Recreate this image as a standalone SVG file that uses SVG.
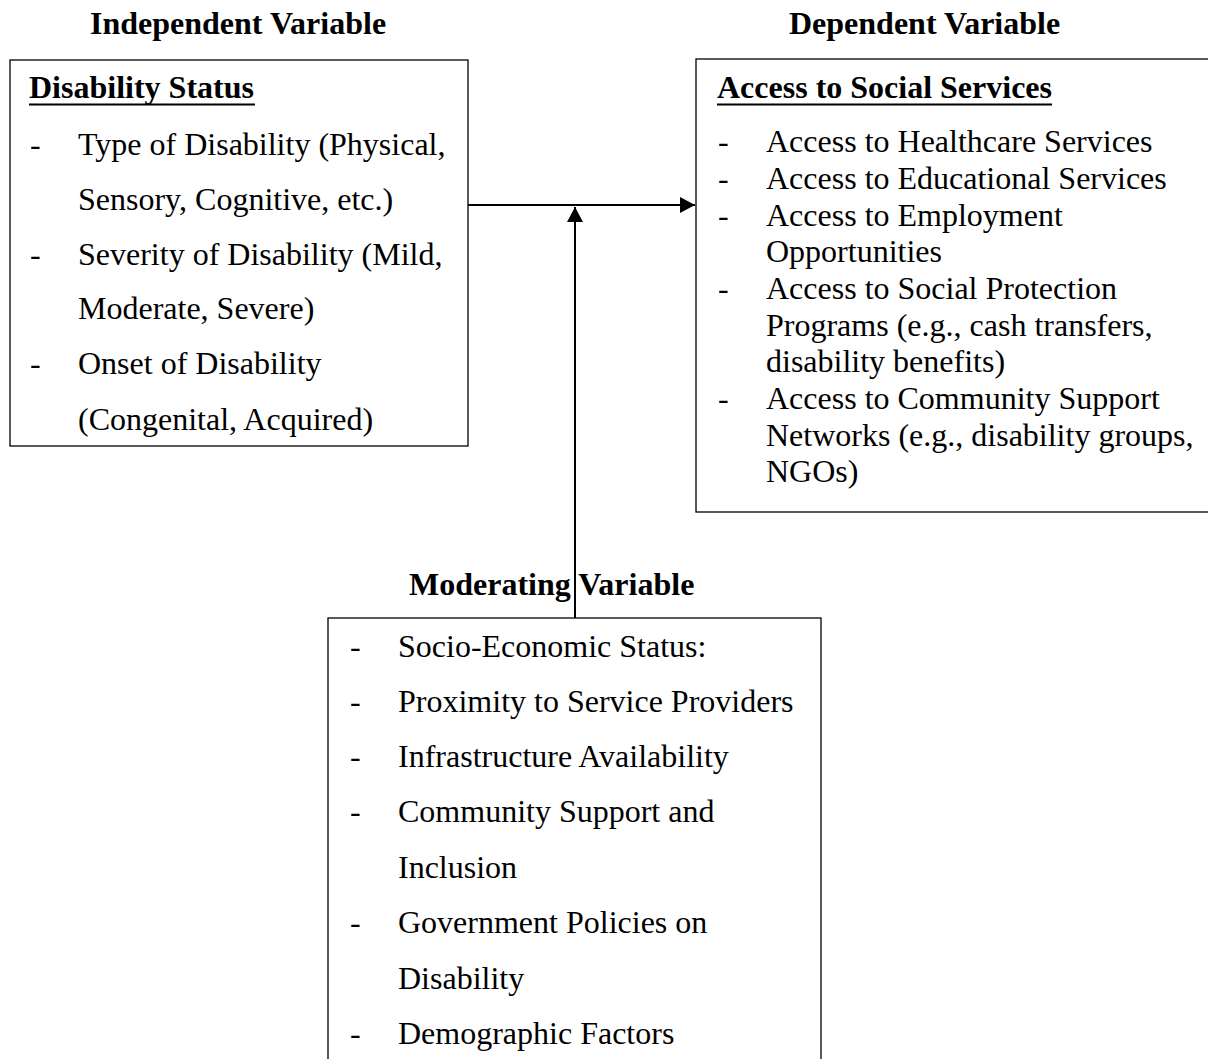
<svg xmlns="http://www.w3.org/2000/svg" width="1208" height="1059" viewBox="0 0 1208 1059">
  <style>
    .box { fill: #ffffff; stroke: #000000; stroke-width: 1.3; }
    .title { font-family: "Liberation Serif", "Times New Roman", serif; font-size: 32px; font-weight: bold; fill: #000000; }
    .head { font-family: "Liberation Serif", "Times New Roman", serif; font-size: 32px; font-weight: bold; fill: #000000; }
    .rule { stroke: #000000; stroke-width: 2.2; }
    .item { font-family: "Liberation Serif", "Times New Roman", serif; font-size: 32px; fill: #000000; }
    .link { stroke: #000000; stroke-width: 2; fill: none; }
  </style>
  <defs>
    <marker id="arrow" viewBox="0 0 15 16" refX="15" refY="8" markerWidth="15" markerHeight="16" markerUnits="userSpaceOnUse" orient="auto">
      <path d="M0,0 L15,8 L0,16 Z" fill="#000000"/>
    </marker>
  </defs>
  <rect width="1208" height="1059" fill="#ffffff"/>

  <!-- Independent variable -->
  <g id="independent">
    <text class="title" x="90" y="34">Independent Variable</text>
    <rect class="box" x="10" y="60" width="458" height="386"/>
    <text class="head" x="29" y="98">Disability Status</text>
    <line class="rule" x1="29" y1="104.5" x2="255" y2="104.5"/>
    <g class="item">
      <text x="30" y="155">-</text><text x="78" y="155">Type of Disability (Physical,</text>
      <text x="78" y="210">Sensory, Cognitive, etc.)</text>
      <text x="30" y="265">-</text><text x="78" y="265">Severity of Disability (Mild,</text>
      <text x="78" y="319">Moderate, Severe)</text>
      <text x="30" y="374">-</text><text x="78" y="374">Onset of Disability</text>
      <text x="78" y="430">(Congenital, Acquired)</text>
    </g>
  </g>

  <!-- Dependent variable -->
  <g id="dependent">
    <text class="title" x="789" y="34">Dependent Variable</text>
    <rect class="box" x="696" y="59" width="520" height="453"/>
    <text class="head" x="717" y="98">Access to Social Services</text>
    <line class="rule" x1="717" y1="104.5" x2="1052" y2="104.5"/>
    <g class="item">
      <text x="718" y="152">-</text><text x="766" y="152">Access to Healthcare Services</text>
      <text x="718" y="189">-</text><text x="766" y="189">Access to Educational Services</text>
      <text x="718" y="226">-</text><text x="766" y="226">Access to Employment</text>
      <text x="766" y="262">Opportunities</text>
      <text x="718" y="299">-</text><text x="766" y="299">Access to Social Protection</text>
      <text x="766" y="336">Programs (e.g., cash transfers,</text>
      <text x="766" y="372">disability benefits)</text>
      <text x="718" y="409">-</text><text x="766" y="409">Access to Community Support</text>
      <text x="766" y="446">Networks (e.g., disability groups,</text>
      <text x="766" y="482">NGOs)</text>
    </g>
  </g>

  <!-- Moderating variable -->
  <g id="moderating">
    <text class="title" x="409" y="595">Moderating Variable</text>
    <rect class="box" x="328" y="618" width="493" height="460"/>
    <g class="item">
      <text x="350" y="657">-</text><text x="398" y="657">Socio-Economic Status:</text>
      <text x="350" y="712">-</text><text x="398" y="712">Proximity to Service Providers</text>
      <text x="350" y="767">-</text><text x="398" y="767">Infrastructure Availability</text>
      <text x="350" y="822">-</text><text x="398" y="822">Community Support and</text>
      <text x="398" y="878">Inclusion</text>
      <text x="350" y="933">-</text><text x="398" y="933">Government Policies on</text>
      <text x="398" y="989">Disability</text>
      <text x="350" y="1044">-</text><text x="398" y="1044">Demographic Factors</text>
    </g>
  </g>

  <!-- Connectors -->
  <g id="connectors">
    <line class="link" x1="468" y1="205" x2="695" y2="205" marker-end="url(#arrow)"/>
    <line class="link" x1="575" y1="618" x2="575" y2="207" marker-end="url(#arrow)"/>
  </g>
</svg>
